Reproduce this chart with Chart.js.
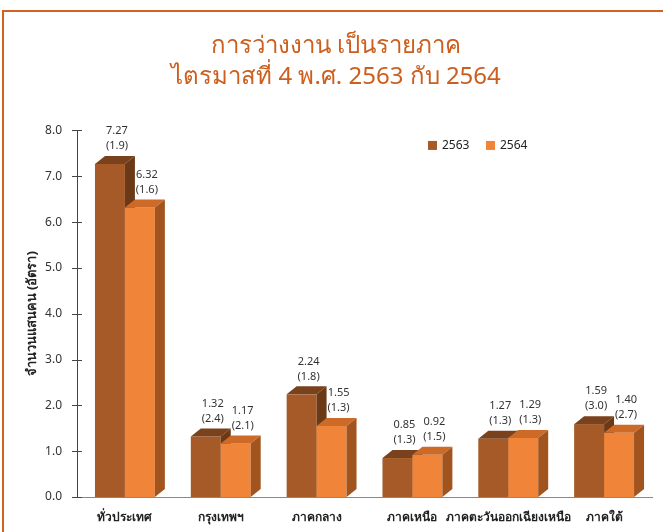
<!DOCTYPE html>
<html>
<head>
<meta charset="utf-8">
<script src="https://cdn.jsdelivr.net/npm/chart.js@4/dist/chart.umd.min.js"></script>
<style>
  html, body { margin: 0; padding: 0; background: #ffffff; }
  #wrap { position: relative; width: 663px; height: 532px; overflow: hidden; }
  #frame { position: absolute; left: 2px; top: 10px; width: 720px; height: 600px;
           border-top: 2px solid #CF6421; border-left: 2px solid #CF6421; }
  canvas { position: absolute; left: 0; top: 0; }
</style>
</head>
<body>
<div id="wrap">
  <div id="frame"></div>
  <canvas id="c" width="663" height="532"></canvas>
</div>
<script>
const categories = ['ทั่วประเทศ', 'กรุงเทพฯ', 'ภาคกลาง', 'ภาคเหนือ', 'ภาคตะวันออกเฉียงเหนือ', 'ภาคใต้'];
const seriesNames = ['2563', '2564'];
const values2563 = [7.27, 1.32, 2.24, 0.85, 1.27, 1.59];
const values2564 = [6.32, 1.17, 1.55, 0.92, 1.29, 1.40];
const rates2563 = ['1.9', '2.4', '1.8', '1.3', '1.3', '3.0'];
const rates2564 = ['1.6', '2.1', '1.3', '1.5', '1.3', '2.7'];
const yTicks = [0, 1, 2, 3, 4, 5, 6, 7, 8];
const titleLines = ['การว่างงาน เป็นรายภาค', 'ไตรมาสที่ 4 พ.ศ. 2563 กับ 2564'];
const yTitle = 'จำนวนแสนคน (อัตรา)';

const FONT = "'Noto Sans', 'DejaVu Sans', sans-serif";
const rates = [rates2563, rates2564];

const bar3d = {
  id: 'bar3d',
  beforeDatasetDraw() { return false; },
  afterDatasetsDraw(chart) {
    const ctx = chart.ctx;
    const dx = 10, dy = 8;
    ctx.save();
    chart.data.datasets.forEach((ds, di) => {
      const meta = chart.getDatasetMeta(di);
      meta.data.forEach(bar => {
        const p = bar.getProps(['x', 'y', 'base', 'width'], true);
        const l = p.x - p.width / 2, r = p.x + p.width / 2;
        ctx.fillStyle = ds.backgroundColor;
        ctx.fillRect(l, p.y, r - l, p.base - p.y);
        ctx.fillStyle = ds.topColor;
        ctx.beginPath();
        ctx.moveTo(l, p.y); ctx.lineTo(l + dx, p.y - dy); ctx.lineTo(r + dx, p.y - dy); ctx.lineTo(r, p.y);
        ctx.closePath(); ctx.fill();
        ctx.fillStyle = ds.sideColor;
        ctx.beginPath();
        ctx.moveTo(r, p.y); ctx.lineTo(r + dx, p.y - dy); ctx.lineTo(r + dx, p.base - dy); ctx.lineTo(r, p.base);
        ctx.closePath(); ctx.fill();
      });
    });
    ctx.restore();
  },
  afterDraw(chart) {
    const ctx = chart.ctx;
    const ys = chart.scales.y;
    const area = chart.chartArea;
    ctx.save();
    // crossing tick marks on the y axis
    ctx.strokeStyle = '#444';
    ctx.lineWidth = 1;
    ys.ticks.forEach(t => {
      const y = Math.round(ys.getPixelForValue(t.value)) + 0.5;
      ctx.beginPath(); ctx.moveTo(area.left - 5, y); ctx.lineTo(area.left + 5, y); ctx.stroke();
    });
    // data labels
    ctx.fillStyle = '#333';
    ctx.font = "11px " + FONT;
    ctx.textAlign = 'center';
    ctx.textBaseline = 'middle';
    chart.data.datasets.forEach((ds, di) => {
      const meta = chart.getDatasetMeta(di);
      meta.data.forEach((bar, i) => {
        const p = bar.getProps(['x', 'y'], true);
        ctx.fillText(ds.data[i].toFixed(2), p.x + 7, p.y - 33);
        ctx.fillText('(' + rates[di][i] + ')', p.x + 7, p.y - 18);
      });
    });
    // legend
    ctx.font = "12px " + FONT;
    ctx.textAlign = 'left';
    let lx = area.left + 351;
    const ly = area.top + 15;
    chart.data.datasets.forEach((ds) => {
      ctx.fillStyle = ds.backgroundColor;
      ctx.fillRect(lx, ly - 4.5, 9, 9);
      ctx.fillStyle = '#222';
      ctx.fillText(ds.label, lx + 14, ly);
      lx += 58;
    });
    ctx.restore();
  }
};

new Chart(document.getElementById('c'), {
  type: 'bar',
  data: {
    labels: categories,
    datasets: [
      { label: seriesNames[0], data: values2563, backgroundColor: '#A65A28', topColor: '#7A421C', sideColor: '#6C3917' },
      { label: seriesNames[1], data: values2564, backgroundColor: '#F0853A', topColor: '#CD6A28', sideColor: '#A2541F' }
    ]
  },
  options: {
    responsive: false,
    animation: false,
    devicePixelRatio: 1,
    layout: { padding: { left: 20, right: 11, top: 0, bottom: 0 } },
    datasets: { bar: { barPercentage: 1.0, categoryPercentage: 0.625, borderWidth: 0 } },
    plugins: {
      legend: { display: false },
      tooltip: { enabled: false },
      title: {
        display: true,
        text: titleLines,
        color: '#CC5E1E',
        font: { family: FONT, size: 24, weight: 'normal', lineHeight: 1.28 },
        padding: { top: 31, bottom: 38 }
      }
    },
    scales: {
      x: {
        grid: { display: false },
        border: { display: true, color: '#888', width: 1 },
        ticks: { color: '#222', font: { family: FONT, size: 12, weight: 'bold' }, padding: 5, maxRotation: 0, autoSkip: false },
        afterFit(scale) { scale.height = 35; }
      },
      y: {
        min: 0, max: 8,
        afterBuildTicks(scale) { scale.ticks = yTicks.map(v => ({ value: v })); },
        grid: { display: false, drawTicks: false },
        border: { display: true, color: '#444', width: 1 },
        ticks: { color: '#333', font: { family: FONT, size: 12 }, padding: 15, callback: v => v.toFixed(1) },
        title: { display: true, text: yTitle, color: '#222', font: { family: FONT, size: 13, weight: 'bold' }, padding: { top: 4, bottom: 0 } },
        afterFit(scale) { scale.width = 57; }
      }
    }
  },
  plugins: [bar3d]
});
</script>
</body>
</html>
